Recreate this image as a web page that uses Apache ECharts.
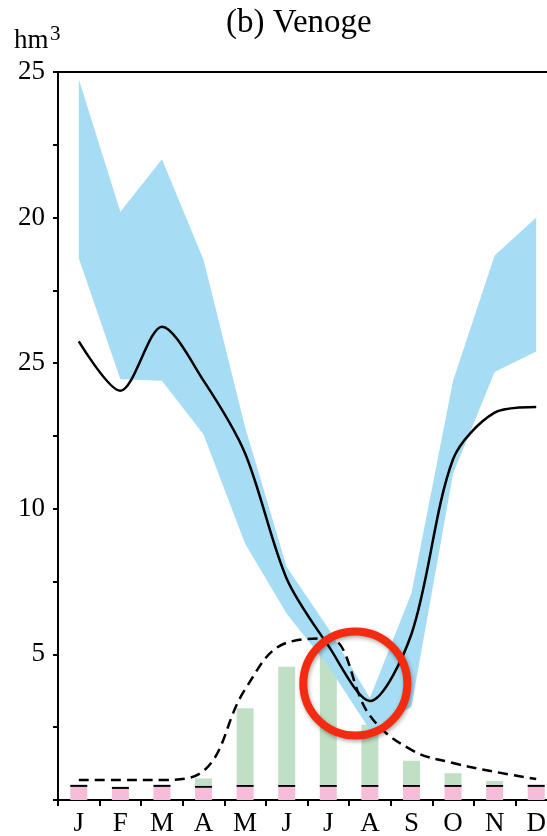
<!DOCTYPE html>
<html>
<head>
<meta charset="utf-8">
<script src="https://cdn.jsdelivr.net/npm/echarts@6/dist/echarts.min.js"></script>
<style>
  html, body { margin: 0; padding: 0; background: #fff; }
  #chartVenoge { width: 547px; height: 836px; }
</style>
</head>
<body>
<div id="chartVenoge"></div>
<script>
// months on the category axis, single letters printed under them
var months = ['Jan', 'Feb', 'Mar', 'Apr', 'May', 'Jun', 'Jul', 'Aug', 'Sep', 'Oct', 'Nov', 'Dec']
var monthLabels = ['J', 'F', 'M', 'A', 'M', 'J', 'J', 'A', 'S', 'O', 'N', 'D']
// y tick labels every 2.5, as printed (the 15 tick reads "25" in the original)
var yTickLabels = ['', '', '5', '', '10', '', '25', '', '20', '', '25']

// blue band (min / max)
var bandLower = [18.6, 14.45, 14.4, 12.55, 8.8, 6.4, 4.6, 2.4, 3.2, 11.2, 14.7, 15.4]
var bandUpper = [24.75, 20.2, 22.0, 18.55, 12.8, 8.0, 5.9, 3.5, 7.1, 14.4, 18.7, 20.0]
// solid and dashed curves
var solidLine = [15.75, 14.05, 16.25, 14.4, 11.9, 7.6, 5.3, 3.4, 5.7, 11.7, 13.3, 13.5]
var dashedLine = [0.69, 0.69, 0.69, 1.0, 3.8, 5.4, 5.55, 2.9, 1.72, 1.27, 0.97, 0.72]
// stacked bars: pink base, thin black cap, green part
var pinkBars = [0.45, 0.38, 0.45, 0.42, 0.45, 0.45, 0.45, 0.45, 0.45, 0.45, 0.45, 0.45]
var capBars = [0.07, 0.07, 0.07, 0.07, 0.07, 0.07, 0.07, 0.07, 0.07, 0.07, 0.07, 0.07]
var greenBars = [0, 0, 0, 0.25, 2.63, 4.06, 4.57, 2.06, 0.83, 0.40, 0.13, 0]

// red circle annotation: at this category position (between Jul and Aug) and value
var circleAt = 6.65
var circleValue = 4.0

var serif = 'Liberation Serif'

function drawChart () {
  var myChart = echarts.init(document.getElementById('chartVenoge'))

  var bandWidth = bandUpper.map(function (v, i) { return +(v - bandLower[i]).toFixed(2) })

  var option = {
    animation: false,
    backgroundColor: '#fff',
    title: {
      text: '(b) Venoge',
      left: 221,
      top: 2,
      textStyle: { fontFamily: serif, fontSize: 33, fontWeight: 'normal', color: '#000' }
    },
    grid: {
      left: 58,
      top: 72,
      bottom: 36,
      right: -10,
      outerBoundsMode: 'none',
      containLabel: false
    },
    xAxis: [{
      type: 'category',
      data: months,
      position: 'bottom',
      boundaryGap: true,
      axisLine: { show: true, lineStyle: { color: '#000', width: 2 } },
      axisTick: { show: true, length: 6, lineStyle: { color: '#000', width: 2 } },
      axisLabel: {
        color: '#000',
        fontFamily: serif,
        fontSize: 27,
        margin: 10,
        interval: 0,
        formatter: function (v, i) { return monthLabels[i] }
      },
      splitLine: { show: false }
    }, {
      type: 'category',
      data: months,
      position: 'top',
      axisLine: { show: true, lineStyle: { color: '#000', width: 2 } },
      axisTick: { show: false },
      axisLabel: { show: false },
      splitLine: { show: false }
    }],
    yAxis: {
      type: 'value',
      min: 0,
      max: 25,
      interval: 2.5,
      axisLine: { show: true, lineStyle: { color: '#000', width: 2 } },
      axisTick: { show: true, length: 5, lineStyle: { color: '#000', width: 2 } },
      axisLabel: {
        color: '#000',
        fontFamily: serif,
        fontSize: 27,
        margin: 13,
        showMinLabel: true,
        showMaxLabel: true,
        formatter: function (v) { return yTickLabels[Math.round(v / 2.5)] }
      },
      splitLine: { show: false }
    },
    graphic: [{
      id: 'unitHm',
      type: 'text',
      left: 14,
      top: 27,
      style: { text: 'hm', font: '27px "Liberation Serif"', fill: '#000' }
    }, {
      id: 'unitSup',
      type: 'text',
      left: 50,
      top: 24,
      style: { text: '3', font: '21px "Liberation Serif"', fill: '#000' }
    }],
    series: [{
      name: 'base',
      type: 'bar',
      stack: 'bars',
      barWidth: 17,
      z: 1,
      itemStyle: { color: '#f5bdd8' },
      data: pinkBars
    }, {
      name: 'cap',
      type: 'bar',
      stack: 'bars',
      barWidth: 17,
      z: 1,
      itemStyle: { color: '#000' },
      data: capBars
    }, {
      name: 'green',
      type: 'bar',
      stack: 'bars',
      barWidth: 17,
      z: 1,
      itemStyle: { color: '#bfe0c4' },
      data: greenBars
    }, {
      name: 'bandLow',
      type: 'line',
      stack: 'band',
      symbol: 'none',
      z: 2,
      lineStyle: { opacity: 0 },
      data: bandLower
    }, {
      name: 'bandHigh',
      type: 'line',
      stack: 'band',
      symbol: 'none',
      z: 2,
      lineStyle: { opacity: 0 },
      areaStyle: { color: '#a6ddf5', opacity: 1 },
      data: bandWidth
    }, {
      name: 'solid',
      type: 'line',
      symbol: 'none',
      smooth: 0.3,
      z: 3,
      lineStyle: { color: '#000', width: 2.5 },
      data: solidLine
    }, {
      name: 'dashed',
      type: 'line',
      symbol: 'none',
      smooth: 0.4,
      z: 3,
      lineStyle: { color: '#000', width: 2.5, type: [10, 6] },
      data: dashedLine
    }]
  }

  myChart.setOption(option, true)

  // place the red circle from the axes
  var i0 = Math.floor(circleAt)
  var f = circleAt - i0
  var x0 = myChart.convertToPixel({ xAxisIndex: 0 }, i0)
  var x1 = myChart.convertToPixel({ xAxisIndex: 0 }, i0 + 1)
  var cx = x0 + (x1 - x0) * f
  var cy = myChart.convertToPixel({ yAxisIndex: 0 }, circleValue)
  myChart.setOption({
    graphic: [{
      id: 'redRing',
      type: 'circle',
      z: 100,
      shape: { cx: cx, cy: cy, r: 52 },
      style: {
        fill: 'none',
        stroke: '#f32b10',
        lineWidth: 8,
        shadowBlur: 4,
        shadowOffsetX: 1,
        shadowOffsetY: 2,
        shadowColor: 'rgba(0,0,0,0.35)'
      }
    }]
  })
}

drawChart()
</script>
</body>
</html>
